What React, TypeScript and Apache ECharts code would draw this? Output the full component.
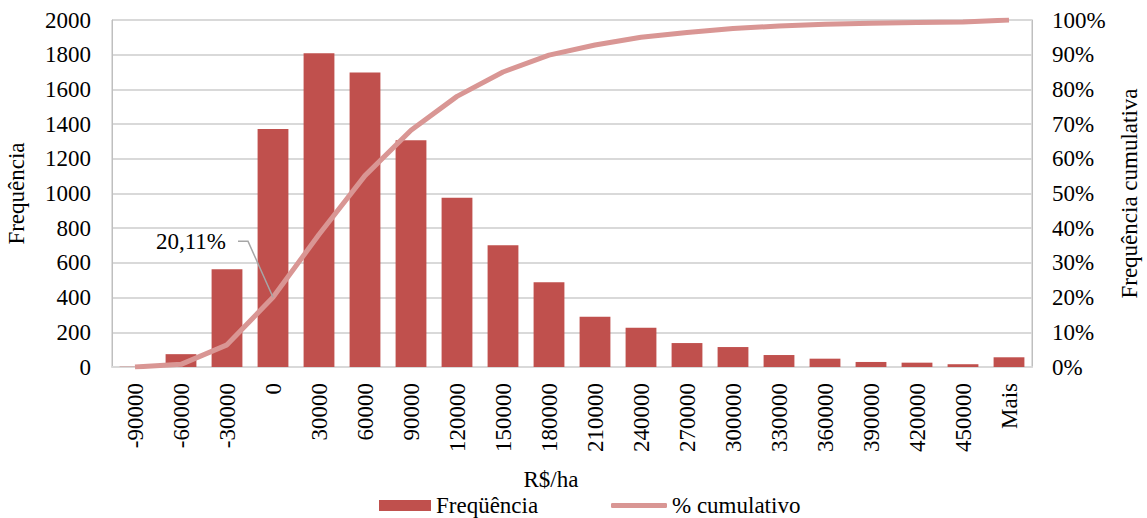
import React, { useEffect, useRef } from "react";
import * as echarts from "echarts";

// Classes of net return (R$/ha) and the number of simulated outcomes in each
const classes = [
  "-90000", "-60000", "-30000", "0", "30000", "60000", "90000", "120000",
  "150000", "180000", "210000", "240000", "270000", "300000", "330000",
  "360000", "390000", "420000", "450000", "Mais",
];
const frequency = [
  2, 74, 563, 1372, 1808, 1697, 1307, 976, 702, 488,
  289, 226, 138, 115, 69, 48, 29, 25, 16, 56,
];
const leftTicks = { min: 0, max: 2000, interval: 200 };
const rightTicks = { min: 0, max: 100, interval: 10 };
const annotatedIndex = 3;

const FONT = "'Liberation Serif', 'Times New Roman', serif";
const BAR = "#c0504d";
const LINE = "#d99694";

export default function App() {
  const ref = useRef<HTMLDivElement>(null);

  useEffect(() => {
    if (!ref.current) return;
    const chart = echarts.init(ref.current, undefined, { renderer: "svg" });

    const total = frequency.reduce((a, b) => a + b, 0);
    let run = 0;
    const cumulative = frequency.map((v) => {
      run += v;
      return (run / total) * 100;
    });

    const textStyle = { fontFamily: FONT, fontSize: 23, color: "#000" };

    chart.setOption({
      animation: false,
      textStyle: { fontFamily: FONT },
      grid: {
        left: 112,
        right: 115,
        top: 20,
        bottom: 151,
        show: true,
        borderColor: "#bfbfbf",
        borderWidth: 1,
        outerBoundsMode: "none",
      },
      legend: [
        {
          data: [{ name: "Freqüência", icon: "rect" }],
          left: 374,
          top: 489,
          itemWidth: 52,
          itemHeight: 11,
          itemGap: 0,
          textStyle,
        },
        {
          data: [{ name: "% cumulativo", icon: "roundRect" }],
          left: 606,
          top: 489,
          itemWidth: 56,
          itemHeight: 5,
          itemGap: 0,
          textStyle,
        },
      ],
      xAxis: {
        type: "category",
        data: classes,
        axisLine: { show: true, lineStyle: { color: "#d9d9d9", width: 2 } },
        axisTick: { show: false },
        axisLabel: { ...textStyle, rotate: 90, margin: 16, interval: 0 },
      },
      yAxis: [
        {
          type: "value",
          ...leftTicks,
          name: "Frequência",
          nameLocation: "middle",
          nameRotate: 90,
          nameGap: 84,
          nameTextStyle: textStyle,
          axisLine: { show: true, lineStyle: { color: "#bfbfbf" } },
          axisTick: { show: false },
          axisLabel: { ...textStyle, margin: 21, formatter: (v: number) => String(v) },
          splitLine: { lineStyle: { color: "#d9d9d9", width: 2 } },
        },
        {
          type: "value",
          ...rightTicks,
          position: "right",
          name: "Frequência cumulativa",
          nameLocation: "middle",
          nameRotate: 90,
          nameGap: 86,
          nameTextStyle: textStyle,
          axisLine: { show: true, lineStyle: { color: "#bfbfbf" } },
          axisTick: { show: false },
          axisLabel: { ...textStyle, margin: 20, formatter: (v: number) => `${v}%` },
          splitLine: { show: false },
        },
      ],
      series: [
        {
          name: "Freqüência",
          type: "bar",
          data: frequency,
          barCategoryGap: "33%",
          itemStyle: { color: BAR },
        },
        {
          name: "% cumulativo",
          type: "line",
          yAxisIndex: 1,
          data: cumulative,
          symbol: "none",
          lineStyle: { color: LINE, width: 5 },
          itemStyle: { color: LINE },
        },
      ],
    });

    // Callout for the cumulative share at the "0" class
    const [px, py] = chart.convertToPixel(
      { xAxisIndex: 0, yAxisIndex: 1 },
      [annotatedIndex, cumulative[annotatedIndex]]
    ) as number[];
    const label = cumulative[annotatedIndex].toFixed(2).replace(".", ",") + "%";
    chart.setOption({
      graphic: [
        {
          type: "polyline",
          shape: {
            points: [
              [px, py],
              [px - 25, py - 56],
              [px - 35, py - 56],
            ],
          },
          style: { stroke: "#a6a6a6", lineWidth: 1.5, fill: null },
          z: 10,
        },
        {
          type: "text",
          x: px - 47,
          y: py - 56,
          style: {
            text: label,
            font: `23px ${FONT}`,
            fill: "#000",
            align: "right",
            verticalAlign: "middle",
          },
          z: 10,
        },
        {
          type: "text",
          x: 551,
          y: 479,
          style: {
            text: "R$/ha",
            font: `23px ${FONT}`,
            fill: "#000",
            align: "center",
            verticalAlign: "middle",
          },
        },
      ],
    });

    return () => chart.dispose();
  }, []);

  return (
    <div
      ref={ref}
      style={{ position: "fixed", left: 0, top: 0, width: 1147, height: 518, background: "#fff" }}
    />
  );
}
